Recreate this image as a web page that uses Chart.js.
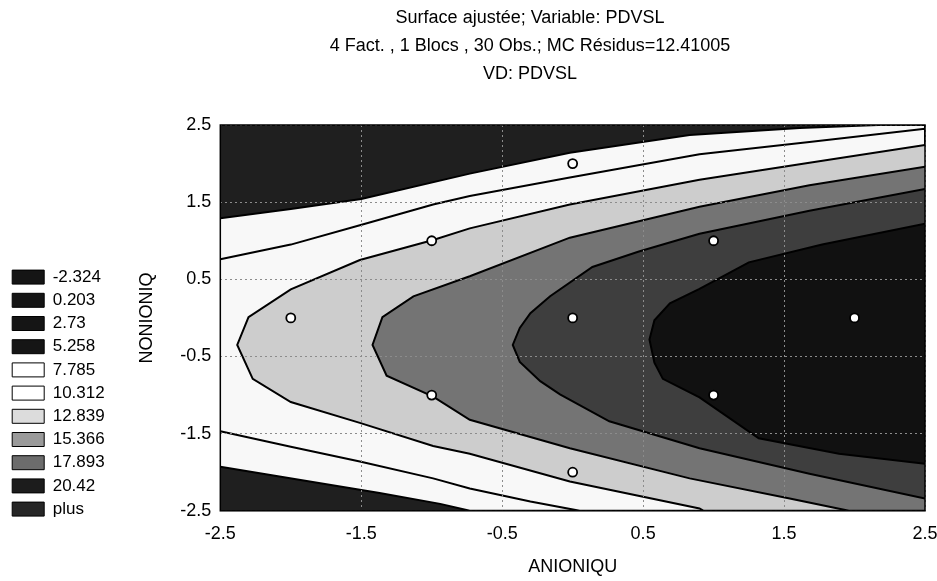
<!DOCTYPE html>
<html>
<head>
<meta charset="utf-8">
<script src="https://cdn.jsdelivr.net/npm/chart.js@4.4.1/dist/chart.umd.min.js"></script>
<style>
  html, body { margin: 0; padding: 0; background: #fff; }
  canvas { display: block; }
</style>
</head>
<body>
<canvas id="c" width="937" height="581"></canvas>
<script>
// Text
const titleLines = [
  "Surface ajustée; Variable: PDVSL",
  "4 Fact. , 1 Blocs , 30 Obs.; MC Résidus=12.41005",
  "VD: PDVSL",
];
const xTicks = [-2.5, -1.5, -0.5, 0.5, 1.5, 2.5];
const yTicks = [-2.5, -1.5, -0.5, 0.5, 1.5, 2.5];
const legendLevels = ["-2.324", "0.203", "2.73", "5.258", "7.785", "10.312", "12.839", "15.366", "17.893", "20.42", "plus"];

// Contour outlines [ANIONIQU, NONIONIQ], each one closed along the plot edges
const contour5258 = [
  [-2.5, 1.29], [-2.0, 1.41], [-1.5, 1.54], [-0.73, 1.87], [-0.02, 2.14], [0.83, 2.37], [1.61, 2.46], [2.17, 2.5],
  [2.5, 2.5], [2.5, -2.5],
  [-0.73, -2.5], [-0.94, -2.41], [-1.37, -2.27], [-1.93, -2.1], [-2.5, -1.93],
];
const contour7785 = [
  [-2.5, 0.76], [-2.0, 0.95], [-1.51, 1.2], [-0.99, 1.47], [-0.73, 1.58], [-0.02, 1.82], [0.9, 2.12], [1.68, 2.28], [2.5, 2.45],
  [2.5, -2.5],
  [0.05, -2.5], [-0.3, -2.38], [-0.73, -2.21], [-0.99, -2.08], [-1.51, -1.86], [-2.0, -1.67], [-2.5, -1.47],
];
const contour10312 = [
  [2.5, 2.24], [1.68, 2.01], [0.9, 1.79], [-0.02, 1.47], [-0.73, 1.16], [-0.99, 1.01], [-1.51, 0.75], [-2.0, 0.37],
  [-2.3, 0.01], [-2.38, -0.35], [-2.27, -0.79], [-2.0, -1.09], [-1.51, -1.36], [-0.99, -1.66], [-0.73, -1.76],
  [-0.02, -2.12], [0.9, -2.47], [0.93, -2.5], [2.5, -2.5],
];
const contour12839 = [
  [2.5, 1.96], [1.68, 1.72], [0.9, 1.44], [-0.02, 1.04], [-0.73, 0.54], [-1.13, 0.28], [-1.35, 0.01], [-1.42, -0.35],
  [-1.32, -0.75], [-0.99, -1.02], [-0.73, -1.32], [-0.02, -1.69], [0.83, -2.08], [1.54, -2.34], [1.96, -2.5], [2.5, -2.5],
];
const contour15366 = [
  [2.5, 1.67], [1.68, 1.39], [0.9, 1.09], [0.47, 0.86], [0.14, 0.66], [-0.16, 0.28], [-0.3, 0.06], [-0.375, -0.13],
  [-0.425, -0.35], [-0.375, -0.57], [-0.23, -0.82], [-0.09, -0.99], [0.26, -1.34], [0.9, -1.69], [1.68, -2.02], [2.5, -2.34],
];
const contour17893 = [
  [2.5, 1.22], [1.77, 0.95], [1.25, 0.72], [0.9, 0.375], [0.69, 0.19], [0.58, -0.03], [0.545, -0.28],
  [0.58, -0.58], [0.64, -0.79], [0.9, -1.03], [1.32, -1.56], [1.89, -1.76], [2.5, -1.89],
];

// Design points
const designX = [-2, -1, -1, 0, 0, 0, 1, 1, 2];
const designY = [0, 1, -1, 2, 0, -2, 1, -1, 0];

// Styles
const contours = [contour5258, contour7785, contour10312, contour12839, contour15366, contour17893];
const bandColors = ["#f8f8f8", "#f8f8f8", "#cdcdcd", "#747474", "#3e3e3e", "#111111"];
const plotBackground = "#1f1f1f";
const legendColors = ["#151515", "#151515", "#151515", "#151515", "#ffffff", "#ffffff", "#dcdcdc", "#9a9a9a", "#6c6c6c", "#1c1c1c", "#262626"];

Chart.defaults.font.family = '"Liberation Sans", Arial, sans-serif';
Chart.defaults.color = "#000";

// background of the plot, the frame round it and the three title lines
const plotFrame = {
  id: "plotFrame",
  beforeDatasetsDraw(chart) {
    const { ctx, chartArea: a } = chart;
    ctx.save();
    ctx.fillStyle = plotBackground;
    ctx.fillRect(a.left, a.top, a.width, a.height);
    ctx.restore();
  },
  afterDraw(chart) {
    const { ctx, chartArea: a } = chart;
    ctx.save();
    ctx.strokeStyle = "#000";
    ctx.lineWidth = 1.5;
    ctx.strokeRect(a.left, a.top, a.width, a.height);
    ctx.fillStyle = "#000";
    ctx.font = '18px "Liberation Sans", Arial, sans-serif';
    ctx.textAlign = "center";
    ctx.textBaseline = "middle";
    titleLines.forEach((t, i) => ctx.fillText(t, 530, 18 + i * 28));
    ctx.restore();
  },
};

const axisGrid = { color: "#8c8c8c", lineWidth: 1, drawTicks: false, z: 1 };
const axisBorder = { display: false, dash: [2, 3] };

const datasets = [
  {
    label: "design",
    data: designX.map((x, i) => ({ x, y: designY[i] })),
    showLine: false,
    pointRadius: 4.5,
    pointBackgroundColor: "#fff",
    pointBorderColor: "#000",
    pointBorderWidth: 1.8,
    order: 0,
  },
  ...contours.map((c, i) => ({
    label: legendLevels[i + 3],
    data: c.map(([x, y]) => ({ x, y })),
    fill: "shape",
    backgroundColor: bandColors[i],
    borderColor: "#000",
    borderWidth: 2,
    pointRadius: 0,
    tension: 0,
    order: 10 - i,
  })),
];

new Chart(document.getElementById("c"), {
  type: "line",
  data: { datasets },
  options: {
    responsive: false,
    animation: false,
    events: [],
    layout: { padding: { left: 6, top: 125, right: 0, bottom: 0 } },
    scales: {
      x: {
        type: "linear",
        min: -2.5,
        max: 2.5,
        afterBuildTicks: (axis) => { axis.ticks = xTicks.map((v) => ({ value: v })); },
        // the tick padding would otherwise be added to the room kept for the last label
        afterFit: (axis) => { axis.paddingRight = 12; },
        ticks: { padding: 12, font: { size: 18 }, maxRotation: 0, autoSkip: false, callback: (v) => String(v) },
        grid: axisGrid,
        border: axisBorder,
        title: { display: true, text: "ANIONIQU", font: { size: 18 }, padding: { top: 0, bottom: 3 } },
      },
      y: {
        type: "linear",
        min: -2.5,
        max: 2.5,
        afterBuildTicks: (axis) => { axis.ticks = yTicks.map((v) => ({ value: v })); },
        ticks: { padding: 9, font: { size: 18 }, autoSkip: false, callback: (v) => String(v) },
        grid: axisGrid,
        border: axisBorder,
        title: { display: true, text: "NONIONIQ", font: { size: 18 }, padding: { top: 22, bottom: 13 } },
      },
    },
    plugins: {
      tooltip: { enabled: false },
      legend: {
        position: "left",
        align: "start",
        title: { display: true, text: "", padding: { top: 123, bottom: 0 } },
        labels: {
          boxWidth: 32,
          boxHeight: 14,
          padding: 6.2,
          font: { size: 17 },
          generateLabels: () =>
            legendLevels.map((t, i) => ({
              text: t,
              fillStyle: legendColors[i],
              strokeStyle: "#000",
              lineWidth: 1,
              hidden: false,
            })),
        },
      },
    },
  },
  plugins: [plotFrame],
});
</script>
</body>
</html>
